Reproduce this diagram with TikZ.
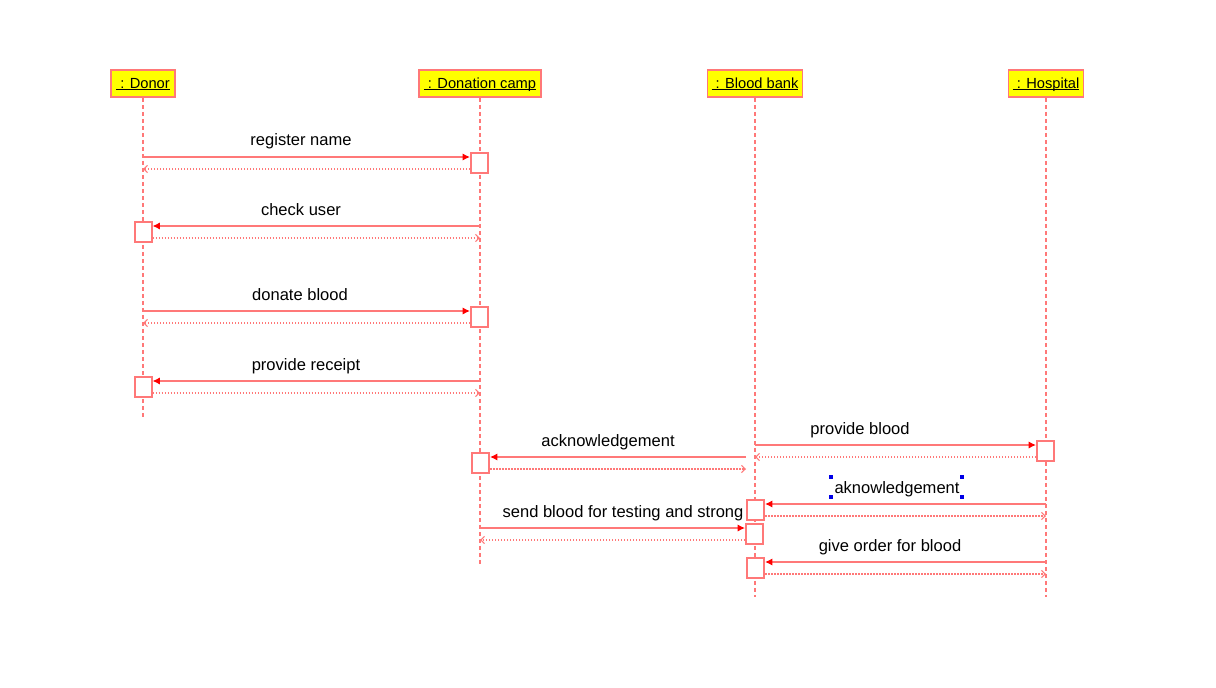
\documentclass[tikz,border=0pt]{standalone}
\usepackage{fontspec}
\setmainfont{Liberation Sans}
\usetikzlibrary{arrows.meta}
\definecolor{lc}{RGB}{255,120,120}
\definecolor{ylw}{RGB}{255,255,0}
\definecolor{hnd}{RGB}{0,0,230}
\newcommand{\headul}[1]{\setbox0\hbox{#1}\rlap{\rule[-1.1pt]{\wd0}{0.9pt}}\box0}
\begin{document}
\begin{tikzpicture}[x=0.75pt,y=-0.75pt,
  head/.style={draw=lc,line width=1.4pt,fill=ylw,inner sep=0pt,minimum height=20.25pt,text height=7.9pt,text depth=0pt,font=\fontsize{11}{13}\selectfont},
  life/.style={draw=lc,line width=1.2pt,dash pattern=on 3pt off 2.25pt},
  act/.style={draw=lc,line width=1.5pt,fill=white,minimum width=12.75pt,minimum height=15pt,inner sep=0pt},
  msg/.style={draw=lc,line width=1.4pt,-{Latex[length=5.5pt,width=5.5pt,color=red]}},
  ret/.style={draw=lc,line width=1.1pt,dash pattern=on 1.125pt off 1.125pt,-{Straight Barb[length=2.8pt,width=5.5pt,line width=0.8pt]}},
  lbl/.style={font=\fontsize{12.4}{14}\selectfont,anchor=base,inner sep=0pt},
  handle/.style={fill=hnd,minimum size=3pt,inner sep=0pt}
]
\useasboundingbox (0,0) rectangle (1216,688);

% heads
\node[head,minimum width=48pt]    (donor) at (143,83.5)  {\headul{~: Donor}};
\node[head,minimum width=91.5pt]  (camp)  at (480,83.5)  {\headul{~: Donation camp}};
\node[head,minimum width=71.25pt] (bank)  at (755,83.5)  {\headul{~: Blood bank}};
\node[head,minimum width=56.25pt] (hosp)  at (1046,83.5) {\headul{~: Hospital}};

% lifelines
\coordinate (donorEnd) at (143,417);
\coordinate (campEnd) at (480,564);
\coordinate (bankEnd) at (755,597);
\coordinate (hospEnd) at (1046,597);
\draw[life] (donor.south) -- (donorEnd);
\draw[life] (camp.south) -- (campEnd);
\draw[life] (bank.south) -- (bankEnd);
\draw[life] (hosp.south) -- (hospEnd);

% activation boxes
\node[act] (b1) at (479.5,163) {};
\node[act] (b2) at (143,232) {};
\node[act] (b3) at (479.5,317) {};
\node[act] (b4) at (143,387) {};
\node[act] (b5) at (480.5,463) {};
\node[act] (b6) at (1045.5,451) {};
\node[act] (b7) at (755.5,510) {};
\node[act] (b8) at (754.5,533.5) {};
\node[act] (b9) at (755.5,568) {};

% message rows
\coordinate (y1) at (0,157); \coordinate (r1) at (0,169);
\coordinate (y2) at (0,226); \coordinate (r2) at (0,238);
\coordinate (y3) at (0,311); \coordinate (r3) at (0,323);
\coordinate (y4) at (0,381); \coordinate (r4) at (0,393);
\coordinate (y6) at (0,445); \coordinate (r6) at (0,457);
\coordinate (y7) at (0,504); \coordinate (r7) at (0,516);
\coordinate (y8) at (0,528); \coordinate (r8) at (0,540);
\coordinate (y9) at (0,562); \coordinate (r9) at (0,574);
\coordinate (s5) at (746,457); \coordinate (e5) at (746,469);

% messages
\draw[msg] (donor |- y1) -- (b1.west |- y1);
\draw[ret] (b1.west |- r1) -- (donor |- r1);
\draw[msg] (camp |- y2) -- (b2.east |- y2);
\draw[ret] (b2.east |- r2) -- (camp |- r2);
\draw[msg] (donor |- y3) -- (b3.west |- y3);
\draw[ret] (b3.west |- r3) -- (donor |- r3);
\draw[msg] (camp |- y4) -- (b4.east |- y4);
\draw[ret] (b4.east |- r4) -- (camp |- r4);
\draw[msg] (s5) -- (b5.east |- s5);
\draw[ret] (b5.east |- e5) -- (e5);
\draw[msg] (bank |- y6) -- (b6.west |- y6);
\draw[ret] (b6.west |- r6) -- (bank |- r6);
\draw[msg] (hosp |- y7) -- (b7.east |- y7);
\draw[ret] (b7.east |- r7) -- (hosp |- r7);
\draw[msg] (camp |- y8) -- (b8.west |- y8);
\draw[ret] (b8.west |- r8) -- (camp |- r8);
\draw[msg] (hosp |- y9) -- (b9.east |- y9);
\draw[ret] (b9.east |- r9) -- (hosp |- r9);

% labels
\node[lbl] (l1) at (301,146) {register name};
\node[lbl] (l2) at (301,215) {check user};
\node[lbl] (l3) at (300,300) {donate blood};
\node[lbl] (l4) at (306,370) {provide receipt};
\node[lbl] (l5) at (608,446) {acknowledgement};
\node[lbl] (l6) at (860,434) {provide blood};
\node[lbl] (l7) at (897,493) {aknowledgement};
\node[lbl] (l8) at (623,517) {send blood for testing and strong};
\node[lbl] (l9) at (890,551) {give order for blood};

% selection handles
\node[handle] (h1) at (831,477) {};
\node[handle] (h2) at (962,477) {};
\node[handle] (h3) at (831,497) {};
\node[handle] (h4) at (962,497) {};
\end{tikzpicture}
\end{document}
